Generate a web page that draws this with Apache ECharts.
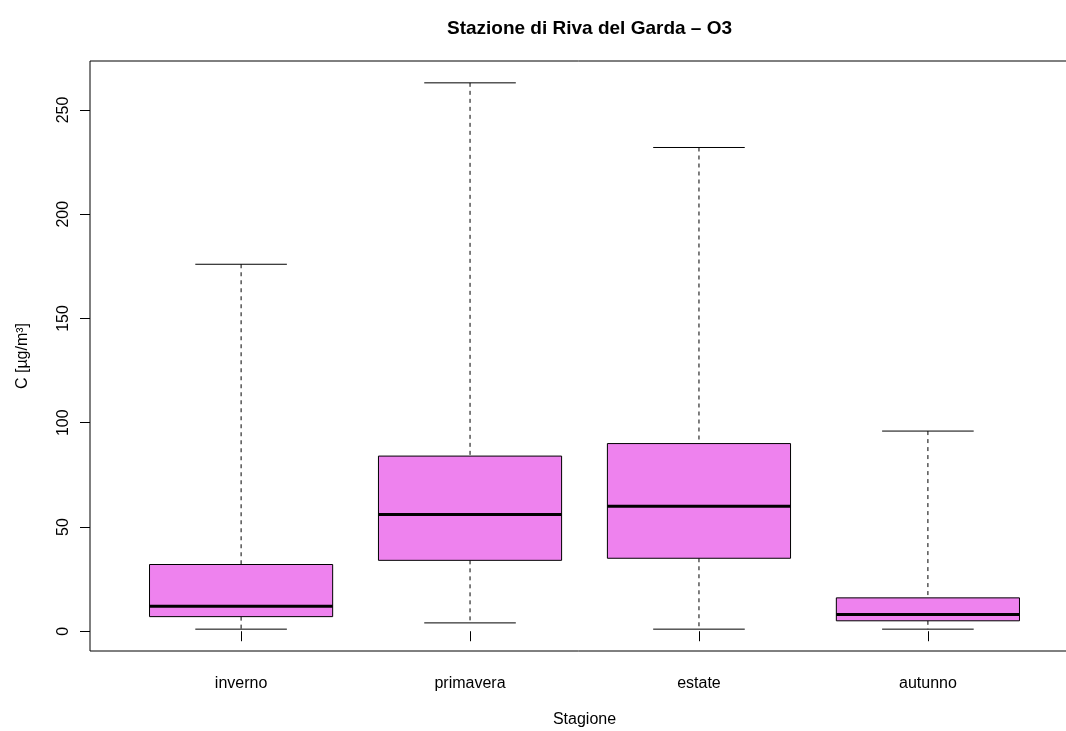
<!DOCTYPE html>
<html>
<head>
<meta charset="utf-8">
<script src="https://cdn.jsdelivr.net/npm/echarts@6/dist/echarts.min.js"></script>
<style>
html,body{margin:0;padding:0;background:#fff;}
#chart{width:1066px;height:731px;}
</style>
</head>
<body>
<div id="chart"></div>
<script>
// Data
const categories = ['inverno', 'primavera', 'estate', 'autunno'];
const whiskerLow = [1, 4, 1, 1];
const q1 = [7, 34, 35, 5];
const median = [12, 56, 60, 8];
const q3 = [32, 84, 90, 16];
const whiskerHigh = [176, 263, 232, 96];
const yTicks = [0, 50, 100, 150, 200, 250];
const xPositions = [1, 2, 3, 4];

const FONT = "'Liberation Sans', Arial, Helvetica, sans-serif";

const boxData = categories.map((c, i) => [xPositions[i], whiskerLow[i], q1[i], median[i], q3[i], whiskerHigh[i]]);

function renderItem(params, api) {
  const x = api.value(0);
  const lo = api.value(1), a = api.value(2), m = api.value(3), b = api.value(4), hi = api.value(5);
  const bw = 0.4, sw = 0.2;
  const tl = api.coord([x - bw, b]);
  const br = api.coord([x + bw, a]);
  const mL = api.coord([x - bw, m]);
  const mR = api.coord([x + bw, m]);
  const cTop = api.coord([x, hi]);
  const cQ3 = api.coord([x, b]);
  const cQ1 = api.coord([x, a]);
  const cLo = api.coord([x, lo]);
  const sHL = api.coord([x - sw, hi]);
  const sHR = api.coord([x + sw, hi]);
  const sLL = api.coord([x - sw, lo]);
  const sLR = api.coord([x + sw, lo]);
  const dash = {stroke: '#000', lineWidth: 1, lineDash: [4, 4]};
  const solid = {stroke: '#000', lineWidth: 1};
  return {
    type: 'group',
    children: [
      {type: 'line', shape: {x1: cTop[0], y1: cTop[1], x2: cQ3[0], y2: cQ3[1]}, style: dash},
      {type: 'line', shape: {x1: cQ1[0], y1: cQ1[1], x2: cLo[0], y2: cLo[1]}, style: dash},
      {type: 'line', shape: {x1: sHL[0], y1: sHL[1], x2: sHR[0], y2: sHR[1]}, style: solid},
      {type: 'line', shape: {x1: sLL[0], y1: sLL[1], x2: sLR[0], y2: sLR[1]}, style: solid},
      {type: 'rect', shape: {x: tl[0], y: tl[1], width: br[0] - tl[0], height: br[1] - tl[1]},
        style: {fill: '#EE82EE', stroke: '#000', lineWidth: 1}},
      {type: 'line', shape: {x1: mL[0], y1: mL[1], x2: mR[0], y2: mR[1]}, style: {stroke: '#000', lineWidth: 3}}
    ]
  };
}

const chart = echarts.init(document.getElementById('chart'), null, {renderer: 'canvas'});
chart.setOption({
  backgroundColor: '#fff',
  animation: false,
  title: {
    text: 'Stazione di Riva del Garda – O3',
    left: 584.5,
    top: 14,
    textAlign: 'center',
    textStyle: {fontFamily: FONT, fontSize: 19, fontWeight: 'bold', color: '#000'}
  },
  grid: {
    left: 90, top: 61, width: 989, height: 590,
    outerBoundsMode: 'none',
    containLabel: false,
    show: true, borderColor: '#000', borderWidth: 1, backgroundColor: 'transparent'
  },
  xAxis: {
    type: 'value',
    min: 0.34, max: 4.66,
    name: 'Stagione',
    nameLocation: 'middle',
    nameGap: 61,
    nameTextStyle: {fontFamily: FONT, fontSize: 16, color: '#000'},
    axisLine: {show: false},
    splitLine: {show: false},
    axisTick: {show: true, length: 10, customValues: xPositions, lineStyle: {color: '#000'}},
    axisLabel: {
      customValues: xPositions, margin: 25,
      fontFamily: FONT, fontSize: 16, color: '#000',
      formatter: v => categories[Math.round(v) - 1]
    }
  },
  yAxis: {
    type: 'value',
    min: -9.48, max: 273.48,
    name: 'C [µg/m³]',
    nameLocation: 'middle',
    nameGap: 59,
    nameRotate: 90,
    nameTextStyle: {fontFamily: FONT, fontSize: 16, color: '#000'},
    axisLine: {show: false},
    splitLine: {show: false},
    axisTick: {show: true, length: 10, customValues: yTicks, lineStyle: {color: '#000'}},
    axisLabel: {
      customValues: yTicks, margin: 18, rotate: 90,
      fontFamily: FONT, fontSize: 16, color: '#000'
    }
  },
  series: [{
    type: 'custom',
    renderItem: renderItem,
    data: boxData,
    encode: {x: 0, y: [1, 2, 3, 4, 5]},
    clip: false
  }]
});
</script>
</body>
</html>
